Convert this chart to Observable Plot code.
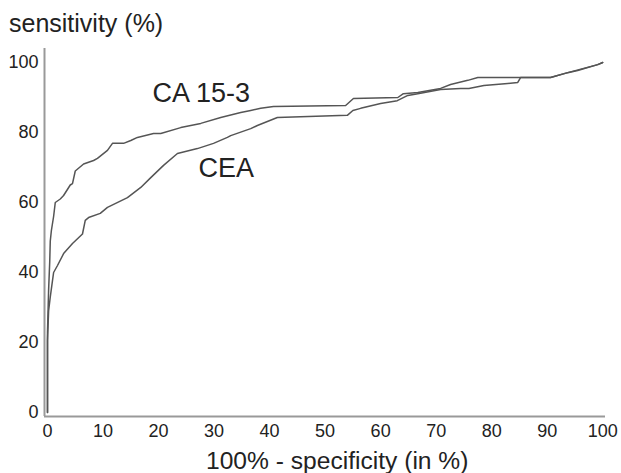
<!DOCTYPE html>
<html>
<head>
<meta charset="utf-8">
<script src="https://cdn.jsdelivr.net/npm/d3@7"></script>
<script src="https://cdn.jsdelivr.net/npm/@observablehq/plot@0.6"></script>
<style>
  html, body { margin: 0; padding: 0; background: #fff; }
  #wrap { position: relative; width: 621px; height: 473px; font-family: "Liberation Sans", Arial, sans-serif; color: #222; }
  #wrap svg { position: absolute; left: 0; top: 0; }
  .ttl { position: absolute; line-height: 1; white-space: nowrap; }
</style>
</head>
<body>
<div id="wrap">
  <div class="ttl" id="title" style="left:9px; top:11px; font-size:25px;">sensitivity (%)</div>
  <div class="ttl" id="xlab" style="left:206px; top:449px; font-size:24.6px;">100% - specificity (in %)</div>
</div>
<script>
// ROC curve CA 15-3: x = 100% - specificity, y = sensitivity
const ca153X = [0, 0, 0.2, 0.4, 0.5, 0.7, 1.1, 1.4, 2.3, 2.9, 4.1, 4.5, 5.0, 6.5, 8.3, 9.0, 10.8, 11.7, 13.7, 15.0, 16.2, 19.1, 20.4, 24.0, 27.6, 31.2, 34.8, 36.6, 38.4, 40.7, 53.7, 55.1, 63.1, 64.1, 66.7, 70.8, 72.6, 75.7, 77.5, 90.6, 93.7, 95.5, 99.1, 100];
const ca153Y = [0, 23, 35, 43, 49, 52, 56, 60, 61, 62, 65, 65.4, 69, 71, 72, 72.6, 74.9, 76.9, 76.9, 77.7, 78.6, 79.7, 79.7, 81.4, 82.6, 84.3, 85.7, 86.3, 86.9, 87.4, 87.7, 89.7, 90, 91.1, 91.4, 92.6, 93.7, 94.9, 95.7, 95.7, 97.1, 97.7, 99.4, 100];
// ROC curve CEA
const ceaX = [0, 0, 0.2, 0.5, 0.9, 1.1, 1.8, 2.9, 4.5, 6.3, 6.8, 7.4, 9.5, 10.8, 14.4, 16.8, 18.6, 20.9, 23.4, 27.0, 29.9, 32.4, 33.0, 36.6, 37.8, 41.4, 54.0, 55.0, 56.4, 60.0, 63.0, 64.9, 66.7, 70.8, 74.4, 75.9, 78.6, 82.9, 84.7, 85.2, 90.6, 93.7, 99.1, 100];
const ceaY = [0, 20.6, 29, 33, 37.7, 40, 42, 45.4, 48.3, 51, 54.9, 55.7, 56.9, 58.6, 61.4, 64.3, 67.1, 70.6, 74, 75.4, 76.9, 78.6, 79.1, 81.1, 82, 84.3, 84.9, 86.3, 86.9, 88.3, 89.1, 90.6, 91.1, 92.3, 92.6, 92.6, 93.4, 94, 94.3, 95.7, 95.7, 97.1, 99.4, 100];

const xTicks = [0, 10, 20, 30, 40, 50, 60, 70, 80, 90, 100];
const yTicks = [0, 20, 40, 60, 80, 100];
const curveNames = ["CA 15-3", "CEA"];
const labelX = [18.9, 27.2];
const labelY = [91.1, 69.7];

const rows = [
  ...ca153X.map((x, i) => ({series: "CA 15-3", x, y: ca153Y[i]})),
  ...ceaX.map((x, i) => ({series: "CEA", x, y: ceaY[i]}))
];
const labels = curveNames.map((name, i) => ({name, x: labelX[i], y: labelY[i]}));

const xDomain = [-0.54, 100.5];
const yDomain = [-1.14, 104];

const chart = Plot.plot({
  width: 621,
  height: 473,
  marginLeft: 44,
  marginRight: 16,
  marginTop: 48,
  marginBottom: 57,
  style: {fontFamily: "'Liberation Sans', Arial, sans-serif", background: "transparent", color: "#222"},
  x: {domain: xDomain},
  y: {domain: yDomain},
  marks: [
    Plot.axisY({ticks: yTicks, tickSize: 0, tickPadding: 6, label: null, fontSize: 18, fill: "#222"}),
    Plot.axisX({ticks: xTicks, tickSize: 0, tickPadding: 8, label: null, fontSize: 18, fill: "#222"}),
    Plot.line(rows, {x: "x", y: "y", z: "series", stroke: "#555", strokeWidth: 1.5, curve: "linear"}),
    Plot.ruleX([xDomain[0]], {stroke: "#999", strokeWidth: 2}),
    Plot.ruleY([yDomain[0]], {stroke: "#999", strokeWidth: 2}),
    Plot.text(labels, {x: "x", y: "y", text: "name", textAnchor: "start", lineAnchor: "middle", fontSize: 27, fill: "#222"})
  ]
});
document.getElementById("wrap").prepend(chart);
</script>
</body>
</html>
